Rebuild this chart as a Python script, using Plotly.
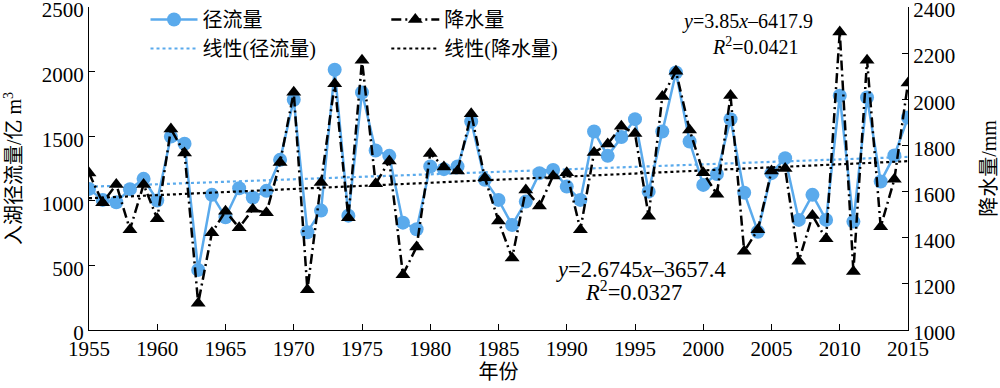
import plotly.graph_objects as go

years = list(range(1955, 2016))
runoff = [1092, 1007, 989, 1090, 1170, 1002, 1497, 1441, 465, 1046,
          873, 1097, 1025, 1077, 1317, 1782, 757, 924, 2014, 885,
          1838, 1389, 1348, 831, 780, 1265, 1245, 1265, 1614, 1162,
          1007, 813, 994, 1214, 1239, 1110, 1007, 1536, 1348, 1493,
          1632, 1071, 1536, 1993, 1459, 1123, 1208, 1632, 1063, 761,
          1214, 1330, 852, 1046, 852, 1813, 839, 1800, 1149, 1351, 1645]
precip = [1680, 1552, 1631, 1435, 1631, 1482, 1871, 1767, 1116, 1421,
          1515, 1443, 1523, 1508, 1726, 2031, 1174, 1639, 2067, 1486,
          2169, 1634, 1733, 1240, 1360, 1765, 1707, 1689, 1937, 1660,
          1472, 1312, 1607, 1537, 1668, 1682, 1435, 1769, 1806, 1883,
          1852, 1493, 2012, 2121, 1867, 1682, 1588, 2016, 1341, 1435,
          1689, 1700, 1298, 1496, 1395, 2292, 1254, 2169, 1447, 1653, 2071]

# trend equations as printed on the chart: y = slope * year + intercept
runoff_fit = [3.85, -6417.9]
precip_fit = [2.6745, -3657.4]
runoff_r2 = "0.0421"
precip_r2 = "0.0327"

x_ticks = list(range(1955, 2016, 5))

runoff_trend = [runoff_fit[0] * y + runoff_fit[1] for y in years]
precip_trend = [precip_fit[0] * y + precip_fit[1] for y in years]

FONT = "Liberation Serif, Times New Roman, Noto Sans CJK SC, serif"
BLUE = "#5AAAEC"

fig = go.Figure()
fig.add_trace(go.Scatter(
    x=years, y=runoff, name="径流量", mode="lines+markers",
    line=dict(color=BLUE, width=2.5),
    marker=dict(symbol="circle", size=14, color=BLUE),
    legend="legend", yaxis="y"))
fig.add_trace(go.Scatter(
    x=years, y=runoff_trend, name="线性(径流量)", mode="lines",
    line=dict(color=BLUE, width=2.2, dash="dot"),
    legend="legend", yaxis="y"))
fig.add_trace(go.Scatter(
    x=years, y=precip, name="降水量", mode="lines+markers",
    line=dict(color="black", width=2.5, dash="10px,4px,2px,4px"),
    marker=dict(symbol="triangle-up", size=13, color="black"),
    legend="legend2", yaxis="y2"))
fig.add_trace(go.Scatter(
    x=years, y=precip_trend, name="线性(降水量)", mode="lines",
    line=dict(color="black", width=2.2, dash="dot"),
    legend="legend2", yaxis="y2"))

axis_common = dict(showline=True, linecolor="black", linewidth=1.3,
                   ticks="inside", ticklen=6, tickcolor="black",
                   showgrid=False, zeroline=False, automargin=False,
                   ticklabeloverflow="allow",
                   tickfont=dict(family=FONT, size=21, color="black"))

fig.update_layout(
    width=1000, height=388,
    margin=dict(l=89, r=92, t=7, b=58, autoexpand=False),
    paper_bgcolor="white", plot_bgcolor="white",
    font=dict(family=FONT, size=20, color="black"),
    xaxis=dict(range=[1955, 2015], tickvals=x_ticks,
               title=dict(text="年份", font=dict(family=FONT, size=20), standoff=2),
               **axis_common),
    yaxis=dict(range=[0, 2500], dtick=500, ticklabelshift=3,
               title=dict(text="入湖径流量/亿 m<sup>3</sup>", font=dict(family=FONT, size=20), standoff=14),
               **axis_common),
    yaxis2=dict(range=[1000, 2400], dtick=200, overlaying="y", side="right",
                ticklabelshift=3,
                title=dict(text="降水量/mm", font=dict(family=FONT, size=20), standoff=32),
                **axis_common),
    legend=dict(x=0.069, y=0.9164, xanchor="left", yanchor="middle",
                bgcolor="rgba(0,0,0,0)", font=dict(family=FONT, size=20),
                tracegroupgap=0, itemwidth=47),
    legend2=dict(x=0.363, y=0.9164, xanchor="left", yanchor="middle",
                 bgcolor="rgba(0,0,0,0)", font=dict(family=FONT, size=20),
                 tracegroupgap=0, itemwidth=48),
    showlegend=True,
)

eq_lines = [
    (f"<i>y</i>={runoff_fit[0]}<i>x</i>–{abs(runoff_fit[1])}", 0.8046, 0.9536, 20),
    (f"<i>R</i><sup>2</sup>={runoff_r2}", 0.8132, 0.8793, 20),
    (f"<i>y</i>={precip_fit[0]}<i>x</i>–{abs(precip_fit[1])}", 0.674, 0.1858, 22.5),
    (f"<i>R</i><sup>2</sup>={precip_r2}", 0.6654, 0.1207, 22.5),
]
for txt, ax, ay, fs in eq_lines:
    fig.add_annotation(xref="paper", yref="paper", x=ax, y=ay,
                       xanchor="center", yanchor="middle", text=txt,
                       showarrow=False, font=dict(family=FONT, size=fs, color="black"))

# remove the default 8px page margin so the figure sits at the window's corner
fig.write_html("out.html", config={"displayModeBar": False},
               post_script="document.body.style.margin='0px';")
